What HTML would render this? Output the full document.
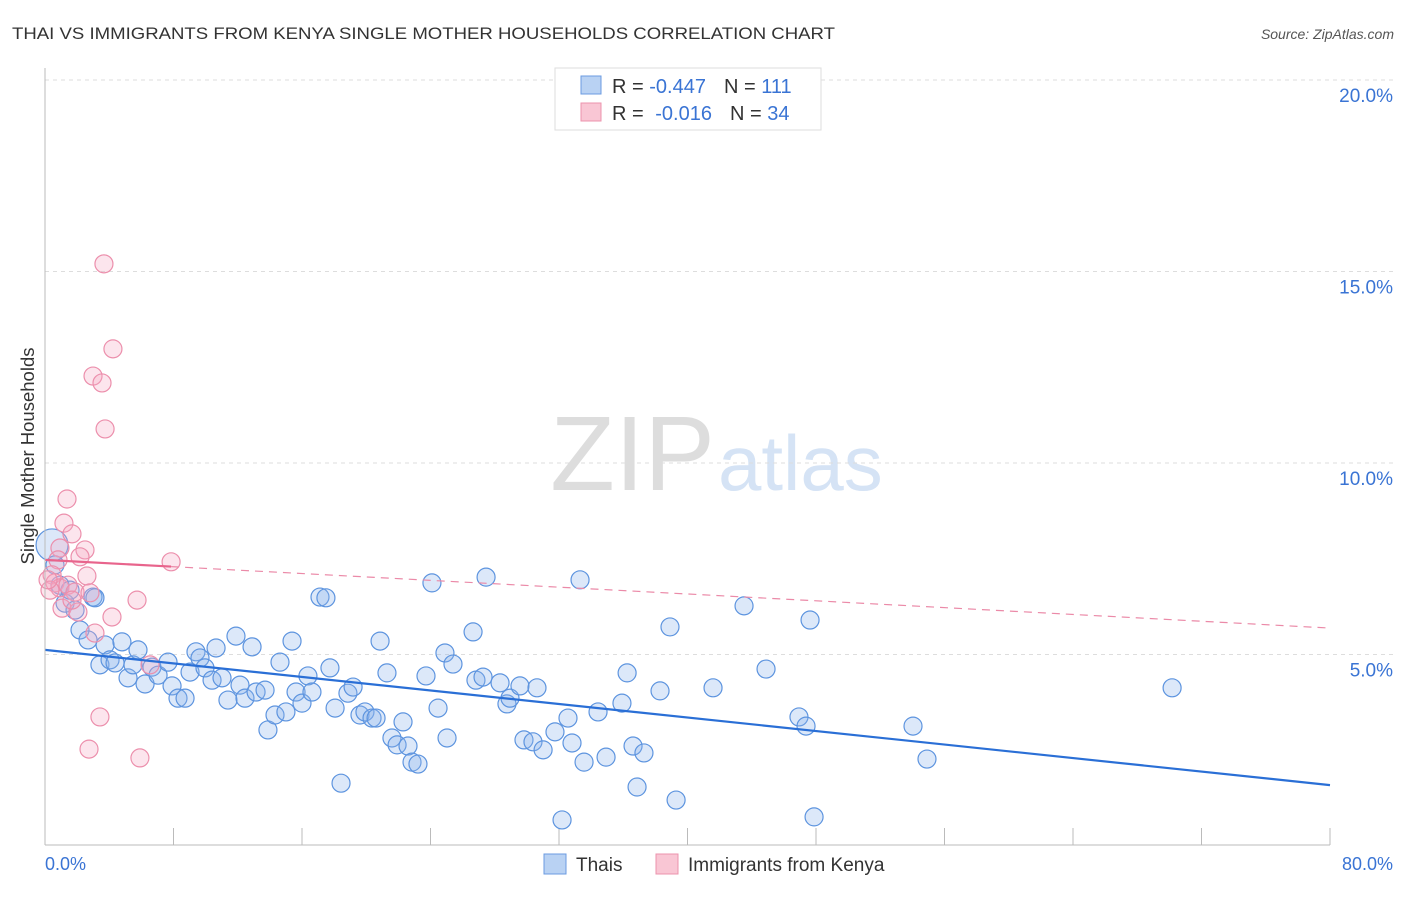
<!DOCTYPE html>
<html><head><meta charset="utf-8"><style>
body{margin:0;background:#fff;font-family:"Liberation Sans",sans-serif;}
svg text{font-family:"Liberation Sans",sans-serif;}
</style></head><body>
<svg id="c" width="1406" height="892" xmlns="http://www.w3.org/2000/svg">
<text x="12" y="39" font-size="17" fill="#333" textLength="823" lengthAdjust="spacingAndGlyphs">THAI VS IMMIGRANTS FROM KENYA SINGLE MOTHER HOUSEHOLDS CORRELATION CHART</text>
<text x="1394" y="39" font-size="14" fill="#555" text-anchor="end" font-style="italic">Source: ZipAtlas.com</text>
<text x="715" y="490" font-size="106" fill="#ddd" text-anchor="end" font-family="Liberation Serif">ZIP</text>
<text x="718" y="490" font-size="78" fill="#d5e3f5">atlas</text>
<text transform="translate(34,456) rotate(-90)" font-size="18.5" fill="#333" text-anchor="middle">Single Mother Households</text>
<g id="grid"></g><g id="pts"></g><g id="lines"></g>
<line x1="45" y1="68" x2="45" y2="845" stroke="#bbb"/>
<line x1="45" y1="845" x2="1330" y2="845" stroke="#bbb"/>
<text x="45" y="870" font-size="18" fill="#3a74d4">0.0%</text>
<text x="1393" y="870" font-size="18" fill="#3a74d4" text-anchor="end">80.0%</text>
<g>
<rect x="555" y="68" width="266" height="62" fill="#fff" stroke="#ddd"/>
<rect x="581" y="76" width="20" height="18" fill="#b9d2f3" stroke="#6b9be0"/>
<rect x="581" y="103" width="20" height="18" fill="#f9c6d4" stroke="#ec93ad"/>
<text x="612" y="93" font-size="20" fill="#333">R = <tspan fill="#3a74d4">-0.447</tspan><tspan dx="18">N = </tspan><tspan fill="#3a74d4">111</tspan></text>
<text x="612" y="120" font-size="20" fill="#333">R = <tspan dx="6" fill="#3a74d4">-0.016</tspan><tspan dx="18">N = </tspan><tspan fill="#3a74d4">34</tspan></text>
</g>
<g>
<rect x="544" y="854" width="22" height="20" fill="#b9d2f3" stroke="#6b9be0"/>
<text x="576" y="871" font-size="19" fill="#333">Thais</text>
<rect x="656" y="854" width="22" height="20" fill="#f9c6d4" stroke="#ec93ad"/>
<text x="688" y="871" font-size="19" fill="#333">Immigrants from Kenya</text>
</g>
</svg>
<script>
const yTicks=[5,10,15,20];
const yTickLabels=["5.0%","10.0%","15.0%","20.0%"];
const xTicks=[0,8,16,24,32,40,48,56,64,72,80];
const blueX=[0.44,0.62,0.93,1.25,1.56,1.87,2.18,2.68,2.99,3.42,3.74,4.05,4.36,4.79,5.17,5.48,5.79,6.23,6.66,7.04,7.66,7.91,8.28,8.72,9.03,9.40,9.65,9.96,10.40,10.65,11.02,11.39,11.89,12.14,12.45,12.89,13.14,13.70,13.88,14.32,14.63,15.00,15.38,15.63,16.00,16.37,16.62,17.12,17.49,17.74,18.06,18.43,18.86,19.18,19.61,19.92,20.36,20.61,20.86,21.29,21.60,21.92,22.29,22.60,22.85,23.22,23.72,24.09,24.47,24.90,25.03,25.40,26.65,26.83,27.27,27.46,28.33,28.76,28.95,29.57,29.82,30.38,30.63,31.01,31.75,32.19,32.56,32.81,33.31,33.56,34.43,34.93,35.92,36.24,36.61,36.86,37.29,38.29,38.91,39.29,41.59,43.52,44.89,46.94,47.38,47.63,47.88,54.04,54.91,70.17,3.11];
const blueY=[7.86,7.34,6.81,6.34,6.68,6.16,5.64,5.38,6.50,4.73,5.25,4.86,4.78,5.33,4.39,4.73,5.12,4.23,4.67,4.46,4.80,4.18,3.86,3.86,4.54,5.07,4.91,4.65,4.33,5.17,4.39,3.81,5.48,4.20,3.86,5.20,4.02,4.07,3.03,3.42,4.80,3.50,5.35,4.02,3.73,4.44,4.02,6.50,6.48,4.65,3.60,1.64,3.99,4.15,3.42,3.50,3.34,3.34,5.35,4.52,2.82,2.64,3.24,2.61,2.19,2.14,4.44,6.87,3.60,5.04,2.82,4.75,5.59,4.33,4.41,7.02,4.26,3.71,3.86,4.18,2.77,2.72,4.13,2.51,2.98,0.68,3.34,2.69,6.95,2.19,3.50,2.32,3.73,4.52,2.61,1.54,2.43,4.05,5.72,1.20,4.13,6.27,4.62,3.37,3.13,5.90,0.76,3.13,2.27,4.13,6.48];
const pinkX=[3.67,4.23,2.99,3.55,3.74,1.37,1.18,1.68,2.49,0.93,0.81,2.18,2.61,0.44,0.62,0.93,1.43,1.87,2.80,1.06,2.05,4.17,5.73,3.11,3.42,2.74,5.91,6.54,7.85,0.31,1.68,0.19];
const pinkY=[15.20,12.98,12.27,12.09,10.89,9.06,8.43,8.15,7.73,7.78,7.47,7.55,7.05,7.08,6.87,6.74,6.81,6.63,6.61,6.21,6.11,5.98,6.42,5.56,3.37,2.53,2.30,4.73,7.42,6.68,6.42,6.95];
const blueTrend=[5.12,1.59];
const pinkTrend=[7.47,5.69];
const pinkSolidEnd=7.85;
const NS="http://www.w3.org/2000/svg";
const sx=v=>45+v/80*1285;
const sy=v=>846-v*38.3;
function mk(t,a,p){const e=document.createElementNS(NS,t);for(const k in a)e.setAttribute(k,a[k]);p.appendChild(e);return e;}
const grid=document.getElementById('grid');
yTicks.forEach((t,i)=>{
 const l=mk('line',{x1:45,x2:1395,y1:sy(t),y2:sy(t),stroke:'#ddd','stroke-dasharray':'4,4'},grid);
 
 
 const tx=mk('text',{x:1393,y:sy(t)+22,'font-size':19,fill:'#3a74d4','text-anchor':'end'},grid);
 tx.textContent=yTickLabels[i];
 
 
});
xTicks.forEach(t=>{
 const l=mk('line',{x1:sx(t),x2:sx(t),y1:828,y2:845,stroke:'#bbb'},grid);
 
 
});
const pts=document.getElementById('pts');
blueX.forEach((x,i)=>{
 const c=mk('circle',{cx:sx(x),cy:sy(blueY[i]),r:i===0?16:9,fill:'rgba(140,180,235,0.3)',stroke:'#5d94df','stroke-width':1.2},pts);
 
 
});
pinkX.forEach((x,i)=>{
 const c=mk('circle',{cx:sx(x),cy:sy(pinkY[i]),r:9,fill:'rgba(245,170,195,0.3)',stroke:'#ec8fac','stroke-width':1.2},pts);
 
 
});
const lines=document.getElementById('lines');
const bl=mk('line',{x1:sx(0),y1:sy(blueTrend[0]),x2:sx(80),y2:sy(blueTrend[1]),stroke:'#2a6fd6','stroke-width':2.2},lines);


const pAt=x=>pinkTrend[0]+(pinkTrend[1]-pinkTrend[0])*x/80;
const ps=mk('line',{x1:sx(0),y1:sy(pinkTrend[0]),x2:sx(pinkSolidEnd),y2:sy(pAt(pinkSolidEnd)),stroke:'#e8648c','stroke-width':2.2},lines);


const pd=mk('line',{x1:sx(pinkSolidEnd),y1:sy(pAt(pinkSolidEnd)),x2:sx(80),y2:sy(pinkTrend[1]),stroke:'#eb8aa8','stroke-width':1.2,'stroke-dasharray':'8,6'},lines);


</script>
</body></html>
